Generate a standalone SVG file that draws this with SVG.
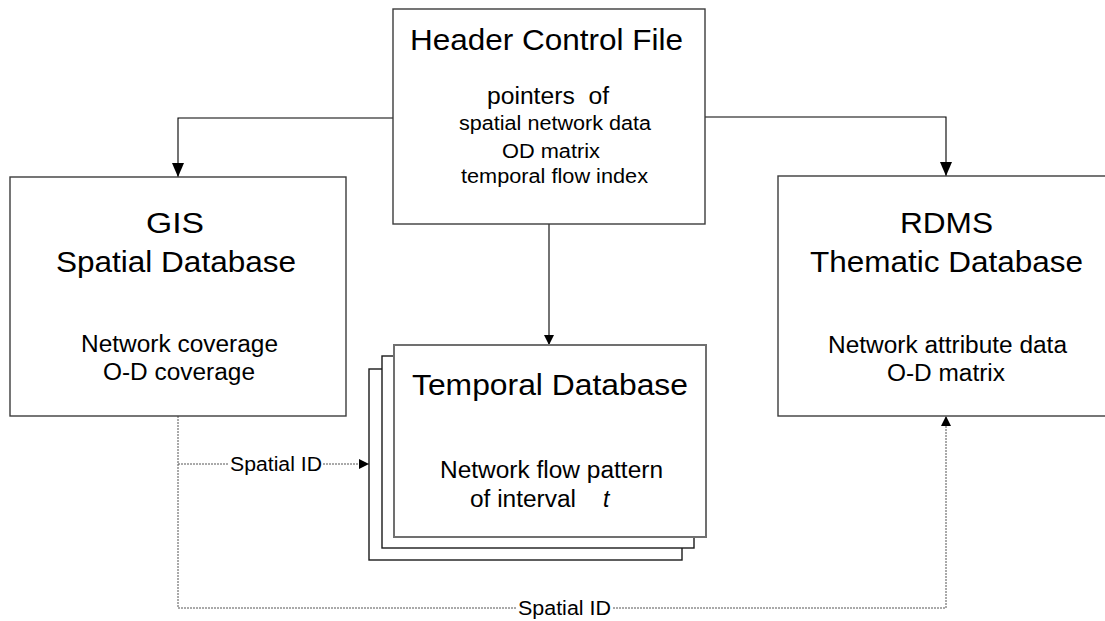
<svg xmlns="http://www.w3.org/2000/svg" width="1105" height="621" viewBox="0 0 1105 621">
  <style>
    text { font-family: "Liberation Sans", Arial, sans-serif; fill: #000; }
    .title { font-size: 30px; }
    .body { font-size: 23px; }
    .small { font-size: 20px; }
    .label { font-size: 20px; }
    .box { fill: #fff; stroke: #3c3c3c; stroke-width: 1.4; }
    .stack { fill: #fff; stroke: #1a1a1a; stroke-width: 1.4; }
    .front { fill: #fff; stroke: #707070; stroke-width: 2; }
    .solid { fill: none; stroke: #000; stroke-width: 1.1; }
    .dotted { fill: none; stroke: #555; stroke-width: 1; stroke-dasharray: 2 1; }
  </style>
  <defs>
    <marker id="arrowBig" markerUnits="userSpaceOnUse" markerWidth="14" markerHeight="12" refX="14" refY="6" orient="auto">
      <path d="M0,0 L14,6 L0,12 Z" fill="#000"/>
    </marker>
    <marker id="arrowSmall" markerUnits="userSpaceOnUse" markerWidth="10" markerHeight="10" refX="10" refY="5" orient="auto">
      <path d="M0,0 L10,5 L0,10 Z" fill="#000"/>
    </marker>
  </defs>

  <rect width="1105" height="621" fill="#fff"/>

  <!-- connectors -->
  <g id="connectors">
    <polyline class="solid" points="393,118 178,118 178,177" marker-end="url(#arrowBig)"/>
    <polyline class="solid" points="705,117 946,117 946,176" marker-end="url(#arrowBig)"/>
    <line class="solid" x1="549" y1="224" x2="549" y2="345" marker-end="url(#arrowSmall)"/>
    <!-- spatial id to temporal stack -->
    <polyline class="dotted" points="178,416 178,464 228,464"/>
    <line class="dotted" x1="323" y1="464" x2="369" y2="464" marker-end="url(#arrowSmall)"/>
    <!-- spatial id to thematic database -->
    <polyline class="dotted" points="178,464 178,608 516,608"/>
    <polyline class="dotted" points="613,608 946,608 946,416" marker-end="url(#arrowSmall)"/>
    <text class="label" x="230" y="471" textLength="92" lengthAdjust="spacingAndGlyphs">Spatial ID</text>
    <text class="label" x="518" y="615" textLength="93" lengthAdjust="spacingAndGlyphs">Spatial ID</text>
  </g>

  <!-- header control file -->
  <g id="header">
    <rect class="box" x="393" y="9" width="312" height="215"/>
    <text class="title" x="410" y="50" textLength="273" lengthAdjust="spacingAndGlyphs">Header Control File</text>
    <text class="body" x="487" y="104" textLength="122" lengthAdjust="spacingAndGlyphs" xml:space="preserve">pointers  of</text>
    <text class="small" x="459" y="130" textLength="192" lengthAdjust="spacingAndGlyphs">spatial network data</text>
    <text class="small" x="502" y="158" textLength="98" lengthAdjust="spacingAndGlyphs">OD matrix</text>
    <text class="small" x="461" y="183" textLength="187" lengthAdjust="spacingAndGlyphs">temporal flow index</text>
  </g>

  <!-- GIS spatial database -->
  <g id="gis">
    <rect class="box" x="10" y="177" width="336" height="239"/>
    <text class="title" x="146" y="233" textLength="58" lengthAdjust="spacingAndGlyphs">GIS</text>
    <text class="title" x="56" y="272" textLength="240" lengthAdjust="spacingAndGlyphs">Spatial Database</text>
    <text class="body" x="81" y="352" textLength="197" lengthAdjust="spacingAndGlyphs">Network coverage</text>
    <text class="body" x="103" y="380" textLength="152" lengthAdjust="spacingAndGlyphs">O-D coverage</text>
  </g>

  <!-- RDMS thematic database -->
  <g id="rdms">
    <rect class="box" x="778" y="176" width="340" height="240"/>
    <text class="title" x="900" y="233" textLength="93" lengthAdjust="spacingAndGlyphs">RDMS</text>
    <text class="title" x="810" y="272" textLength="273" lengthAdjust="spacingAndGlyphs">Thematic Database</text>
    <text class="body" x="828" y="353" textLength="239" lengthAdjust="spacingAndGlyphs">Network attribute data</text>
    <text class="body" x="887" y="381" textLength="118" lengthAdjust="spacingAndGlyphs">O-D matrix</text>
  </g>

  <!-- temporal database, stacked intervals -->
  <g id="temporal">
    <rect class="stack" x="369" y="369" width="313" height="191"/>
    <rect class="stack" x="382" y="356" width="312" height="192"/>
    <rect class="front" x="394" y="345" width="312" height="192"/>
    <text class="title" x="412" y="395" textLength="276" lengthAdjust="spacingAndGlyphs">Temporal Database</text>
    <text class="body" x="440" y="478" textLength="223" lengthAdjust="spacingAndGlyphs">Network flow pattern</text>
    <text class="body" x="470" y="507" textLength="106" lengthAdjust="spacingAndGlyphs">of interval</text>
    <text class="body" x="603" y="507" font-style="italic">t</text>
  </g>
</svg>
